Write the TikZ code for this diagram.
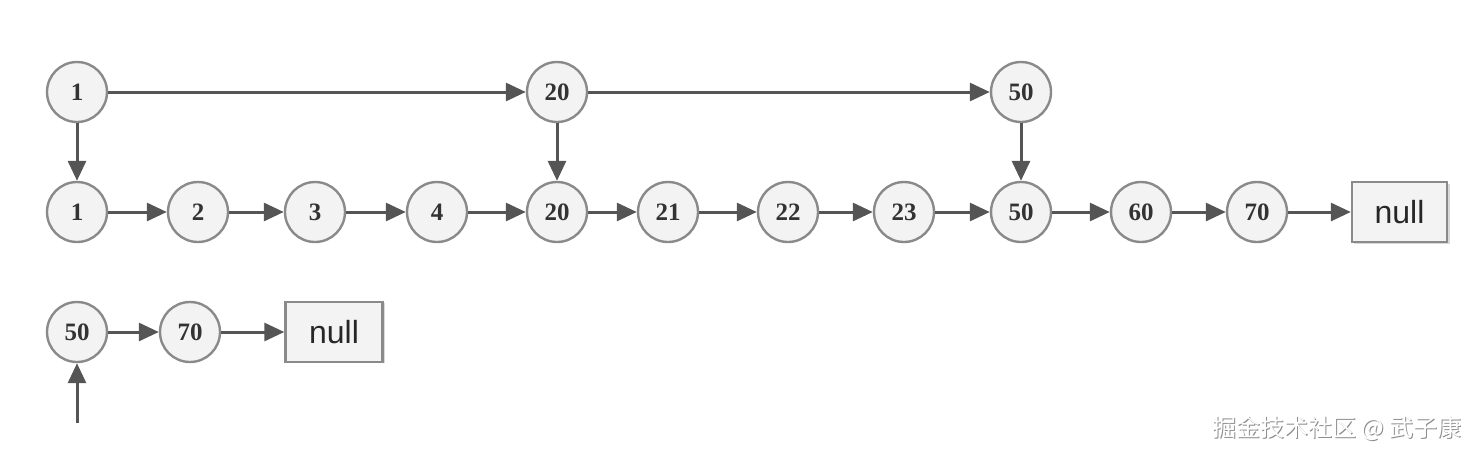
\documentclass[tikz,border=0pt]{standalone}
\usepackage{fontspec}
\setmainfont{Liberation Serif}
\setsansfont{Liberation Sans}
\newfontfamily\cjk{Noto Sans CJK SC}
\usetikzlibrary{arrows.meta}
\definecolor{nodefill}{HTML}{F3F3F3}
\definecolor{nodedraw}{HTML}{8A8A8A}
\definecolor{arrowcol}{HTML}{555555}
\tikzset{
  lnode/.style={circle, draw=nodedraw, fill=nodefill, line width=2.4pt, minimum size=60pt, inner sep=0pt, font=\bfseries\fontsize{25}{25}\selectfont, text=black!80},
  nullbox/.style={rectangle, draw=nodedraw, fill=nodefill, line width=2.4pt, minimum width=95pt, minimum height=60pt, inner sep=0pt, font=\sffamily\fontsize{32}{32}\selectfont, text=black!85},
  link/.style={draw=arrowcol, line width=3pt, -{Triangle[length=20pt, width=18pt]}},
}
\begin{document}
\begin{tikzpicture}[x=1pt, y=-1pt]
\useasboundingbox (0,0) rectangle (1478,456);
% top row
\node[lnode] (t1) at (77,92) {1};
\node[lnode] (t20) at (557,92) {20};
\node[lnode] (t50) at (1021,92) {50};
% middle row
\node[lnode] (m1) at (77,212) {1};
\node[lnode] (m2) at (198,212) {2};
\node[lnode] (m3) at (315,212) {3};
\node[lnode] (m4) at (437,212) {4};
\node[lnode] (m20) at (557,212) {20};
\node[lnode] (m21) at (668,212) {21};
\node[lnode] (m22) at (788,212) {22};
\node[lnode] (m23) at (904,212) {23};
\node[lnode] (m50) at (1021,212) {50};
\node[lnode] (m60) at (1141,212) {60};
\node[lnode] (m70) at (1257,212) {70};
\fill[black!15] (1354,184) rectangle (1450,244);
\node[nullbox] (mnull) at (1399.5,212) {null};
% bottom row
\node[lnode] (b50) at (77,332) {50};
\node[lnode] (b70) at (190,332) {70};
\fill[black!15] (287,303) rectangle (385,363);
\node[nullbox, minimum width=97pt] (bnull) at (334,332) {null};
\coordinate (bin) at (77,423);
% links
\draw[link] (t1) -- (t20);
\draw[link] (t20) -- (t50);
\draw[link] (t1) -- (m1);
\draw[link] (t20) -- (m20);
\draw[link] (t50) -- (m50);
\draw[link] (m1) -- (m2);
\draw[link] (m2) -- (m3);
\draw[link] (m3) -- (m4);
\draw[link] (m4) -- (m20);
\draw[link] (m20) -- (m21);
\draw[link] (m21) -- (m22);
\draw[link] (m22) -- (m23);
\draw[link] (m23) -- (m50);
\draw[link] (m50) -- (m60);
\draw[link] (m60) -- (m70);
\draw[link] (m70) -- (mnull);
\draw[link] (b50) -- (b70);
\draw[link] (b70) -- (bnull);
\draw[link] (bin) -- (b50);
% watermark
\node[anchor=east, text=black!45, font=\cjk\fontsize{24}{24}\selectfont] (wms) at (1466.5,429.5) {掘金技术社区 @ 武子康};
\node[anchor=east, text=white, font=\cjk\fontsize{24}{24}\selectfont] (wm) at (1465,428) {掘金技术社区 @ 武子康};
\end{tikzpicture}
\end{document}
